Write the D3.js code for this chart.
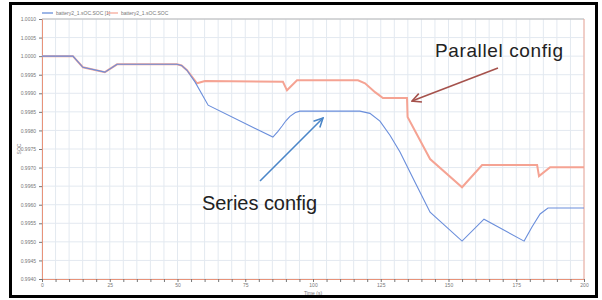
<!DOCTYPE html>
<html>
<head>
<meta charset="utf-8">
<script src="https://cdn.jsdelivr.net/npm/d3@7"></script>
<style>
  body { margin: 0; background: #fff; }
  text { font-family: "Liberation Sans", Arial, sans-serif; }
</style>
</head>
<body>
<script>
// data (time in s, SOC)
const seriesT = [0, 11.4, 15.1, 23.2, 27.7, 49.8, 51.5, 53.5, 56.5, 61.3, 85.2, 87.0, 88.6, 90.0, 91.5, 93.5, 95.2, 117.3, 121.0, 124.7, 128.4, 132.1, 137.6, 143.2, 155, 163.1, 177.9, 180.8, 183.8, 186.7, 200];
const seriesV = [1.0000, 1.0000, 0.99970, 0.99957, 0.99978, 0.99978, 0.99975, 0.99962, 0.99930, 0.99868, 0.99782, 0.99797, 0.99812, 0.99826, 0.99838, 0.99848, 0.99852, 0.99852, 0.99846, 0.99825, 0.99787, 0.99742, 0.99661, 0.99580, 0.99502, 0.99561, 0.99502, 0.99540, 0.99575, 0.99591, 0.99591];
const parallelT = [0, 11.4, 15.1, 23.2, 27.7, 49.8, 51.5, 53.5, 57.2, 60.1, 88.9, 90.4, 94.1, 116.6, 119.2, 122.9, 125.8, 134.7, 134.9, 143.2, 155, 162.4, 182.7, 183.4, 187.5, 200];
const parallelV = [1.0000, 1.0000, 0.99970, 0.99957, 0.99978, 0.99978, 0.99975, 0.99962, 0.99927, 0.99933, 0.99931, 0.99908, 0.99935, 0.99935, 0.99927, 0.99903, 0.99887, 0.99887, 0.99836, 0.99723, 0.99647, 0.99707, 0.99707, 0.99677, 0.99701, 0.99701];
const yTicks = [0.9940, 0.9945, 0.9950, 0.9955, 0.9960, 0.9965, 0.9970, 0.9975, 0.9980, 0.9985, 0.9990, 0.9995, 1.0000, 1.0005, 1.0010];
const xTicks = [0, 25, 50, 75, 100, 125, 150, 175, 200];
const legendNames = ['battery2_1.sOC.SOC [1]', 'battery2_1.sOC.SOC'];

const W = 602, H = 300;
const svg = d3.select('body').append('svg').attr('width', W).attr('height', H);

const x = d3.scaleLinear().domain([0, 200]).range([42, 584]);
const y = d3.scaleLinear().domain([0.9940, 1.0010]).range([279, 19]);

// grid
const minorX = d3.range(0, 201, 5);
svg.append('g').selectAll('line').data(minorX).join('line')
  .attr('x1', d => x(d)).attr('x2', d => x(d))
  .attr('y1', y.range()[1]).attr('y2', y.range()[0])
  .attr('stroke', '#e3e9f0').attr('stroke-width', 1);
svg.append('g').selectAll('line').data(yTicks).join('line')
  .attr('x1', x.range()[0]).attr('x2', x.range()[1])
  .attr('y1', d => y(d)).attr('y2', d => y(d))
  .attr('stroke', '#e3e9f0').attr('stroke-width', 1);

// frame top / right
svg.append('line').attr('x1', 42).attr('x2', 584).attr('y1', 19).attr('y2', 19).attr('stroke', '#b8b8b8');
svg.append('line').attr('x1', 584).attr('x2', 584).attr('y1', 19).attr('y2', 279).attr('stroke', '#f0a898');

// axes
const yAxis = svg.append('g').attr('transform', 'translate(42,0)')
  .call(d3.axisLeft(y).tickValues(yTicks).tickFormat(d3.format('.4f')).tickSize(3));
const xAxis = svg.append('g').attr('transform', 'translate(0,279)')
  .call(d3.axisBottom(x).tickValues(minorX).tickFormat(d => xTicks.includes(d) ? d : '').tickSize(3));
[yAxis, xAxis].forEach(a => {
  a.select('.domain').attr('stroke', '#e8937a');
  a.selectAll('.tick line').attr('stroke', '#777');
  a.selectAll('text').attr('fill', '#777').attr('font-size', 5);
});
xAxis.selectAll('text').attr('y', 4).attr('dy', '0.71em');

// axis titles
svg.append('text').attr('transform', 'translate(21,149) rotate(-90)')
  .attr('text-anchor', 'middle').attr('font-size', 5).attr('fill', '#777').text('SOC');
svg.append('text').attr('x', 313).attr('y', 294.5)
  .attr('text-anchor', 'middle').attr('font-size', 5).attr('fill', '#777').text('Time (s)');

// lines
const line = d3.line().x(d => x(d[0])).y(d => y(d[1]));
svg.append('path').datum(d3.zip(parallelT, parallelV))
  .attr('d', line).attr('fill', 'none').attr('stroke', '#f5a393').attr('stroke-width', 2);
svg.append('path').datum(d3.zip(seriesT, seriesV))
  .attr('d', line).attr('fill', 'none').attr('stroke', '#6a8edb').attr('stroke-width', 1.1);

// legend
const colors = ['#5b86d6', '#f5a393'];
const legX = [42, 107];
legendNames.forEach((n, i) => {
  svg.append('line').attr('x1', legX[i]).attr('x2', legX[i] + 11).attr('y1', 13).attr('y2', 13)
    .attr('stroke', colors[i]).attr('stroke-width', 1.2);
  svg.append('text').attr('x', legX[i] + 14).attr('y', 14.7).attr('font-size', 5).attr('fill', '#777').text(n);
});

// annotations
const defs = svg.append('defs');
[['arrRed', '#a5524c'], ['arrBlue', '#4a86c8']].forEach(([id, c]) => {
  defs.append('marker').attr('id', id).attr('viewBox', '0 0 10 10')
    .attr('refX', 9).attr('refY', 5).attr('markerWidth', 7).attr('markerHeight', 7)
    .attr('orient', 'auto')
    .append('path').attr('d', 'M1,1 L9,5 L1,9').attr('fill', 'none').attr('stroke', c).attr('stroke-width', 1.4);
});
svg.append('line').attr('x1', 498).attr('y1', 68).attr('x2', 412).attr('y2', 101)
  .attr('stroke', '#a5524c').attr('stroke-width', 1.6).attr('marker-end', 'url(#arrRed)');
svg.append('line').attr('x1', 260).attr('y1', 181).attr('x2', 323).attr('y2', 118)
  .attr('stroke', '#4a86c8').attr('stroke-width', 1.6).attr('marker-end', 'url(#arrBlue)');

svg.append('text').attr('x', 435).attr('y', 57).attr('font-family', 'Lato, sans-serif')
  .attr('font-size', 19).attr('fill', '#222').attr('textLength', 128).text('Parallel config');
svg.append('text').attr('x', 202).attr('y', 210).attr('font-family', 'Lato, sans-serif')
  .attr('font-size', 20).attr('fill', '#222').attr('textLength', 115).text('Series config');

// outer frame
svg.append('rect').attr('x', 10.5).attr('y', 3.5).attr('width', 586).attr('height', 293)
  .attr('fill', 'none').attr('stroke', '#000').attr('stroke-width', 3);
</script>
</body>
</html>
